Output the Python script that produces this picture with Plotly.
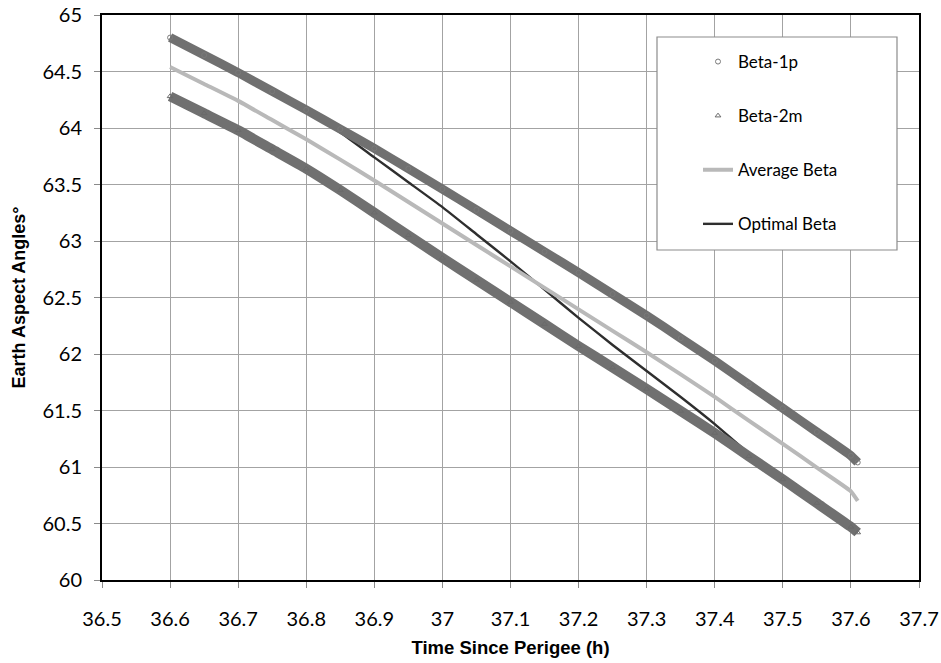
import plotly.graph_objects as go

# ---- data ----
time_h = [36.60, 36.65, 36.70, 36.75, 36.80, 36.85, 36.90, 36.95, 37.00, 37.05, 37.10,
          37.15, 37.20, 37.25, 37.30, 37.35, 37.40, 37.45, 37.50, 37.55, 37.60, 37.61]

beta_1p = [64.80, 64.645, 64.49, 64.325, 64.16, 63.99, 63.82, 63.64, 63.46, 63.275, 63.09,
           62.905, 62.72, 62.53, 62.34, 62.14, 61.94, 61.73, 61.52, 61.31, 61.10, 61.04]

beta_2m = [64.28, 64.13, 63.98, 63.81, 63.64, 63.45, 63.25, 63.05, 62.85, 62.655, 62.46,
           62.265, 62.07, 61.88, 61.69, 61.495, 61.30, 61.095, 60.89, 60.68, 60.47, 60.42]

average_beta = [64.54, 64.39, 64.24, 64.07, 63.90, 63.72, 63.535, 63.345, 63.155, 62.965, 62.775,
                62.585, 62.395, 62.205, 62.015, 61.82, 61.62, 61.41, 61.205, 60.995, 60.785, 60.70]

optimal_beta = [64.80, 64.645, 64.49, 64.325, 64.15, 63.96, 63.74, 63.52, 63.30, 63.06, 62.82,
                62.57, 62.32, 62.08, 61.85, 61.62, 61.38, 61.12, 60.89, 60.68, 60.47, 60.42]

x_ticks = [36.5, 36.6, 36.7, 36.8, 36.9, 37.0, 37.1, 37.2, 37.3, 37.4, 37.5, 37.6, 37.7]
x_tick_labels = ["36.5", "36.6", "36.7", "36.8", "36.9", "37", "37.1", "37.2", "37.3",
                 "37.4", "37.5", "37.6", "37.7"]
y_ticks = [60, 60.5, 61, 61.5, 62, 62.5, 63, 63.5, 64, 64.5, 65]
y_tick_labels = ["60", "60.5", "61", "61.5", "62", "62.5", "63", "63.5", "64", "64.5", "65"]

BAND = "#707070"
SMOOTH = dict(shape="spline", smoothing=0.4)
fig = go.Figure()

# Optimal beta (drawn beneath the measured bands)
fig.add_trace(go.Scatter(x=time_h, y=optimal_beta, mode="lines", name="Optimal Beta",
                         line=dict(color="#2e2e2e", width=2.4, **SMOOTH),
                         legendgroup="d", legendrank=4))
fig.add_trace(go.Scatter(x=time_h, y=average_beta, mode="lines", name="Average Beta",
                         line=dict(color="#b9b9b9", width=4, **SMOOTH),
                         legendgroup="c", legendrank=3))

# measured bands
fig.add_trace(go.Scatter(x=time_h, y=beta_2m, mode="lines", showlegend=False,
                         line=dict(color=BAND, width=10, **SMOOTH), hoverinfo="skip"))
fig.add_trace(go.Scatter(x=time_h, y=beta_2m, mode="markers", name="Beta-2m",
                         marker=dict(symbol="triangle-up-open", size=5, color="#6a6a6a",
                                     line=dict(width=1)),
                         legendgroup="b", legendrank=2))
fig.add_trace(go.Scatter(x=time_h, y=beta_1p, mode="lines", showlegend=False,
                         line=dict(color=BAND, width=9, **SMOOTH), hoverinfo="skip"))
fig.add_trace(go.Scatter(x=time_h, y=beta_1p, mode="markers", name="Beta-1p",
                         marker=dict(symbol="circle-open", size=5, color="#7a7a7a",
                                     line=dict(width=1)),
                         legendgroup="a", legendrank=1))

axis_common = dict(showgrid=True, gridcolor="#a3a3a3", gridwidth=1.3, automargin=False,
                   showline=True, linecolor="black", linewidth=2, mirror=True,
                   ticks="outside", ticklen=6, tickcolor="#8a8a8a", tickwidth=1.3,
                   zeroline=False, tickfont=dict(family="Lato", size=20, color="black"))

fig.update_xaxes(range=[36.5, 37.7], tickvals=x_ticks, ticktext=x_tick_labels,
                 ticklabelstandoff=14,
                 title=dict(text="Time Since Perigee (h)", standoff=12,
                            font=dict(family="Liberation Sans", size=18.5, color="black",
                                      weight="bold")),
                 **axis_common)
fig.update_yaxes(range=[60, 65], tickvals=y_ticks, ticktext=y_tick_labels,
                 ticklabelstandoff=8,
                 title=dict(text="Earth Aspect Angles°", standoff=12,
                            font=dict(family="Liberation Sans", size=18, color="black",
                                      weight="bold")),
                 **axis_common)

# legend frame
fig.add_shape(type="rect", xref="paper", yref="paper",
              x0=(657 - 102) / 817, x1=(897 - 102) / 817,
              y0=(580 - 250) / 565, y1=(580 - 37) / 565,
              line=dict(color="#8c8c8c", width=1.2), fillcolor="white", layer="above")

fig.update_layout(
    width=941, height=663,
    margin=dict(l=102, r=22, t=15, b=83),
    plot_bgcolor="white", paper_bgcolor="white",
    showlegend=True,
    legend=dict(x=(698 - 102) / 817, y=(580 - 44) / 565, xanchor="left", yanchor="top",
                bgcolor="rgba(0,0,0,0)", borderwidth=0, traceorder="grouped",
                tracegroupgap=29, font=dict(family="Lato", size=17, color="black")),
)

fig.write_html("out.html")
